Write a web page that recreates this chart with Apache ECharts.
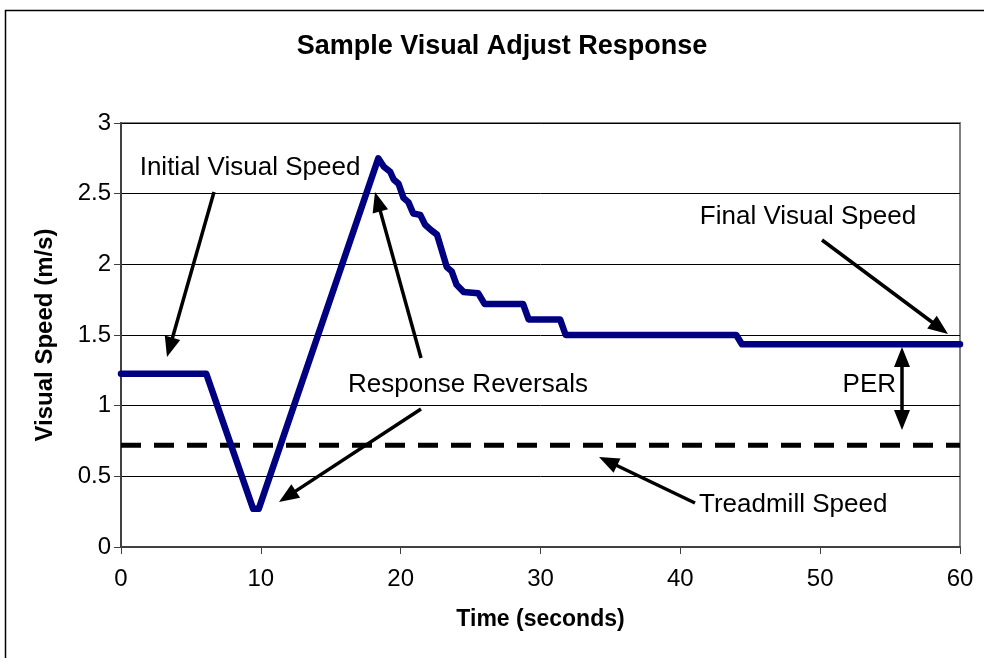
<!DOCTYPE html>
<html>
<head>
<meta charset="utf-8">
<script src="https://cdn.jsdelivr.net/npm/echarts@6/dist/echarts.min.js"></script>
<style>
html,body{margin:0;padding:0;background:#fff;}
#chart{width:984px;height:658px;}
</style>
</head>
<body>
<div id="chart"></div>
<script>
// ---- Data ----
var timeSec = [0, 6.1, 9.45, 9.85, 18.4, 18.8, 19.25, 19.5, 19.85, 20.2, 20.55, 20.9, 21.4, 21.75, 22.2, 22.6, 23.3, 23.65, 24.0, 24.5, 25.55, 26.0, 28.75, 29.15, 31.4, 31.8, 44.0, 44.4, 60];
var visualSpeed = [1.225, 1.225, 0.27, 0.27, 2.75, 2.69, 2.655, 2.60, 2.57, 2.47, 2.44, 2.36, 2.35, 2.28, 2.24, 2.21, 1.98, 1.95, 1.855, 1.805, 1.795, 1.72, 1.72, 1.61, 1.61, 1.50, 1.50, 1.435, 1.435];
var treadmillTime = [0, 60];
var treadmillSpeed = [0.72, 0.72];
var xTicks = [0, 10, 20, 30, 40, 50, 60];
var yTicks = [0, 0.5, 1, 1.5, 2, 2.5, 3];

var FONT = "'Liberation Sans', Arial, sans-serif";

function pairs(xs, ys) { return xs.map(function (x, i) { return [x, ys[i]]; }); }

function arrow(x1, y1, x2, y2, headLen, headHalf) {
  headLen = headLen || 20; headHalf = headHalf || 8;
  var dx = x2 - x1, dy = y2 - y1, L = Math.sqrt(dx * dx + dy * dy);
  var ux = dx / L, uy = dy / L;
  var bx = x2 - ux * headLen, by = y2 - uy * headLen;
  var px = -uy, py = ux;
  return [
    { type: 'line', shape: { x1: x1, y1: y1, x2: bx + ux * 2, y2: by + uy * 2 }, style: { stroke: '#000', lineWidth: 3.5 }, z: 100 },
    { type: 'polygon', shape: { points: [[x2, y2], [bx + px * headHalf, by + py * headHalf], [bx - px * headHalf, by - py * headHalf]] }, style: { fill: '#000' }, z: 100 }
  ];
}

function label(text, x, y, size, bold, align, rot) {
  return {
    type: 'text', x: x, y: y, rotation: rot || 0, z: 100,
    style: { text: text, fill: '#000', font: (bold ? 'bold ' : '') + size + 'px ' + FONT, align: align || 'center', verticalAlign: 'middle' }
  };
}

var graphics = [
  { type: 'rect', shape: { x: 5.5, y: 10.5, width: 1000, height: 700 }, style: { fill: 'none', stroke: '#000', lineWidth: 1.5 }, z: 0 },
  label('Sample Visual Adjust Response', 502, 47, 27, true),
  label('Initial Visual Speed', 250, 168, 26, false),
  label('Response Reversals', 468, 385, 26, false),
  label('Final Visual Speed', 808, 217, 26, false),
  label('PER', 896, 385, 26, false, 'right'),
  label('Treadmill Speed', 699, 505, 26, false, 'left')
];
graphics = graphics
  .concat(arrow(214, 192, 167, 357))
  .concat(arrow(421, 358, 375, 192))
  .concat(arrow(421, 409, 279, 502))
  .concat(arrow(822, 240, 948, 334))
  .concat(arrow(695, 503, 599, 457))
  .concat(arrow(902, 390, 902, 347))
  .concat(arrow(902, 390, 902, 430));

var chart = echarts.init(document.getElementById('chart'));
chart.setOption({
  animation: false,
  backgroundColor: '#fff',
  grid: { left: 121, right: 24, top: 123, bottom: 111, show: true, borderColor: '#808080', borderWidth: 2, backgroundColor: 'transparent' },
  xAxis: {
    type: 'value', min: xTicks[0], max: xTicks[xTicks.length - 1], interval: 10,
    name: 'Time (seconds)', nameLocation: 'middle', nameGap: 61,
    nameTextStyle: { fontFamily: FONT, fontWeight: 'bold', fontSize: 23, color: '#000', verticalAlign: 'top' },
    axisLine: { show: true, onZero: false, lineStyle: { color: '#404040', width: 2 } },
    axisTick: { show: true, length: 7, lineStyle: { color: '#404040', width: 1 } },
    axisLabel: { fontFamily: FONT, fontSize: 24, color: '#000', margin: 20 },
    splitLine: { show: false }
  },
  yAxis: {
    type: 'value', min: yTicks[0], max: yTicks[yTicks.length - 1], interval: 0.5,
    name: 'Visual Speed (m/s)', nameLocation: 'middle', nameGap: 64, nameRotate: 90,
    nameTextStyle: { fontFamily: FONT, fontWeight: 'bold', fontSize: 24, color: '#000' },
    axisLine: { show: true, onZero: false, lineStyle: { color: '#404040', width: 2 } },
    axisTick: { show: true, length: 7, lineStyle: { color: '#404040', width: 1 } },
    axisLabel: { fontFamily: FONT, fontSize: 24, color: '#000', margin: 10 },
    splitLine: { show: true, lineStyle: { color: '#000', width: 1 } }
  },
  series: [
    {
      name: 'Treadmill Speed', type: 'line', data: pairs(treadmillTime, treadmillSpeed),
      showSymbol: false, silent: true, z: 3,
      lineStyle: { color: '#000', width: 5, type: [20, 13] }
    },
    {
      name: 'Visual Speed', type: 'line', data: pairs(timeSec, visualSpeed),
      showSymbol: false, silent: true, z: 4,
      lineStyle: { color: '#000080', width: 6.5, cap: 'round', join: 'round' }
    }
  ],
  graphic: graphics
});
</script>
</body>
</html>
